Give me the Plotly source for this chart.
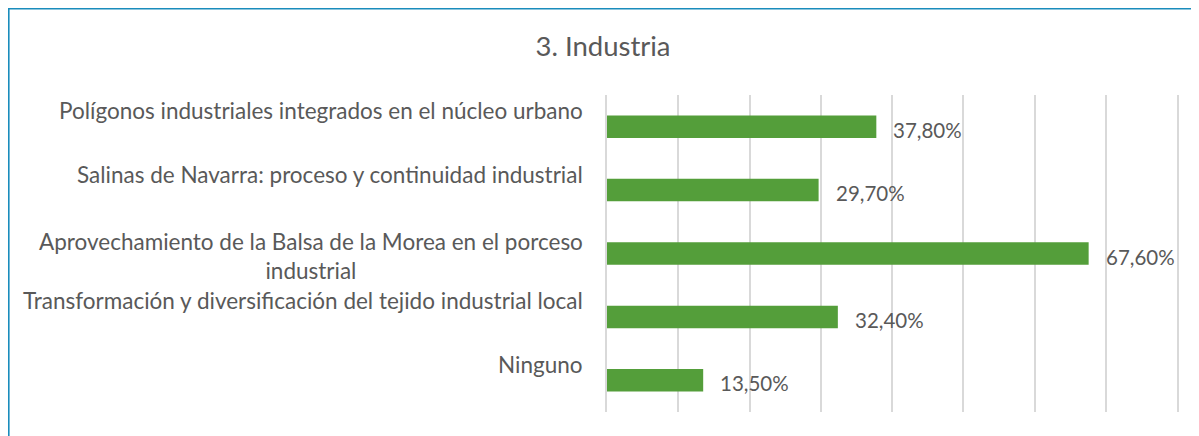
import plotly.graph_objects as go

title = "3. Industria"
categories = [
    "Polígonos industriales integrados en el núcleo urbano",
    "Salinas de Navarra: proceso y continuidad industrial",
    "Aprovechamiento de la Balsa de la Morea en el porceso<br>industrial",
    "Transformación y diversificación del tejido industrial local",
    "Ninguno",
]
values = [37.8, 29.7, 67.6, 32.4, 13.5]
x_ticks = [0, 10, 20, 30, 40, 50, 60, 70, 80]

FONT = "Lato"
TXT = "#595959"
GREEN = "#549e3a"
BORDER = "#1a8cbc"
GRID = "#d9d9d9"

# page body has an 8px margin; figure sized to fit the window
OFF = 8
W, H = 1199 - OFF, 436 - OFF
ML, MR, MT, MB = 607 - OFF, 22, 95 - OFF, 24
PW, PH = W - ML - MR, H - MT - MB

fig = go.Figure()
fig.add_trace(go.Bar(
    x=values, y=categories, orientation="h",
    marker=dict(color=GREEN, line=dict(width=0)),
    width=0.355, hoverinfo="skip",
))

ann = []
for c, v in zip(categories, values):
    ann.append(dict(
        x=0, y=c, xref="x", yref="y", text=c, showarrow=False,
        xanchor="right", yanchor="middle", xshift=-22,
        yshift=(-2 if "<br>" in c else 16), align="center",
        font=dict(family=FONT, size=22.5, color=TXT),
    ))
    ann.append(dict(
        x=v, y=c, xref="x", yref="y",
        text=f"{v:.2f}".replace(".", ",") + "%", showarrow=False,
        xanchor="left", yanchor="middle", xshift=15, yshift=-3,
        font=dict(family=FONT, size=20.5, color=TXT),
    ))

def px(fx):
    return (fx - ML) / PW

def py(fy):
    return 1 - (fy - MT) / PH

shapes = [
    dict(type="line", xref="paper", yref="paper", x0=px(0), x1=px(W + 10),
         y0=py(0.4), y1=py(0.4), line=dict(color=BORDER, width=2.4)),
    dict(type="line", xref="paper", yref="paper", x0=px(0.4), x1=px(0.4),
         y0=py(0), y1=py(H + 10), line=dict(color=BORDER, width=2.4)),
]

fig.update_layout(
    width=W, height=H, autosize=False,
    margin=dict(l=ML, r=MR, t=MT, b=MB, pad=0),
    paper_bgcolor="white", plot_bgcolor="white",
    showlegend=False,
    title=dict(text=title, x=(603 - OFF) / W, xref="container", xanchor="center",
               y=1 - (46 - OFF) / H, yref="container", yanchor="middle",
               font=dict(family=FONT, size=27.5, color=TXT)),
    xaxis=dict(range=[0, 80], tickvals=x_ticks, showticklabels=False,
               showgrid=True, gridcolor=GRID, gridwidth=1.6,
               zeroline=False, showline=False, ticks=""),
    yaxis=dict(categoryorder="array", categoryarray=categories,
               autorange="reversed", showticklabels=False, showgrid=False,
               zeroline=False, showline=True, mirror=True,
               linecolor=GRID, linewidth=1.6, ticks=""),
    annotations=ann, shapes=shapes,
)

fig.write_html("out.html")
